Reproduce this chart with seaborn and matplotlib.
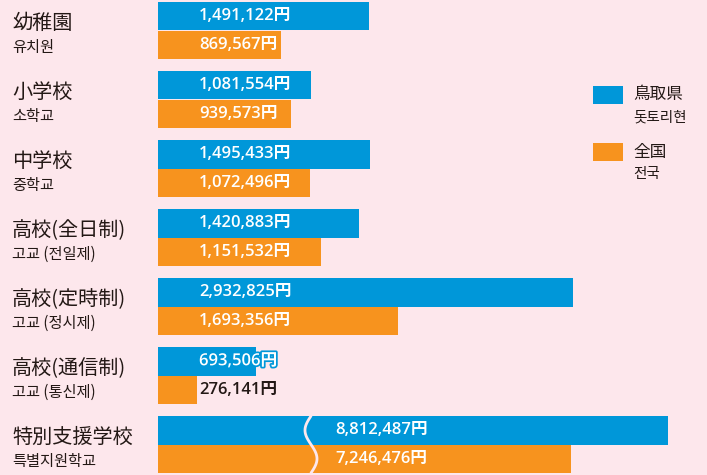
import numpy as np
import pandas as pd
import seaborn as sns
import matplotlib
matplotlib.use("Agg")
import matplotlib.pyplot as plt
from matplotlib.patches import Rectangle
import matplotlib.patheffects as pe

# ---- data ----
categories_ja = ["幼稚園", "小学校", "中学校", "高校(全日制)", "高校(定時制)", "高校(通信制)", "特別支援学校"]
categories_ko = ["유치원", "소학교", "중학교", "고교 (전일제)", "고교 (정시제)", "고교 (통신제)", "특별지원학교"]
tottori = [1491122, 1081554, 1495433, 1420883, 2932825, 693506, 8812487]
national = [869567, 939573, 1072496, 1151532, 1693356, 276141, 7246476]
series_ja = ["鳥取県", "全国"]
series_ko = ["돗토리현", "전국"]

BLUE = "#0097d9"
ORANGE = "#f7931e"
BG = "#fde7ec"
DARK = "#231815"

# broken-axis mapping for very large values (compressed beyond the break)
BREAK_LIMIT = 4_000_000
def shown(v):
    if v <= BREAK_LIMIT:
        return v
    return -251_000 + 0.4374 * v

W, H = 707, 475
sns.set_theme(style="white")
plt.rcParams["font.family"] = ["Noto Sans CJK JP", "DejaVu Sans"]
NUMFONT = ["Open Sans", "Noto Sans CJK JP"]

fig = plt.figure(figsize=(W / 100, H / 100), dpi=100, facecolor=BG)
ax = fig.add_axes([0, 0, 1, 1])
ax.set_facecolor(BG)

rows = []
for cat, t, n in zip(categories_ja, tottori, national):
    rows.append({"cat": cat, "series": series_ja[0], "shown": shown(t), "value": t})
    rows.append({"cat": cat, "series": series_ja[1], "shown": shown(n), "value": n})
df = pd.DataFrame(rows)

sns.barplot(data=df, x="shown", y="cat", hue="series", orient="h",
            palette=[BLUE, ORANGE], width=0.826, saturation=1,
            dodge=True, legend=False, ax=ax, linewidth=0)

PX = 141.5e-6  # pixels per yen
x0 = 158
ax.set_xlim(-x0 / PX, (W - x0) / PX)
ax.set_ylim((H - 30.5) / 69, -30.5 / 69)
ax.set_axis_off()

half = 0.826 / 4
px2val = lambda p: p / PX
for i in range(len(categories_ja)):
    ax.text(px2val(12 - x0), i - 0.1, categories_ja[i], fontsize=14.5, color=DARK,
            va="center", ha="left")
    ax.text(px2val(12 - x0), i + 0.25, categories_ko[i], fontsize=11, color=DARK,
            va="center", ha="left")
    for j, (vals, col) in enumerate([(tottori, BLUE), (national, ORANGE)]):
        v = vals[i]
        y = i + (-half if j == 0 else half)
        lx = px2val(41) if v <= BREAK_LIMIT else px2val(177)
        label = f"{v:,}円"
        label_end = lx + px2val(80)
        kw = dict(fontsize=12, va="center", ha="left", family=NUMFONT, fontweight="semibold")
        if shown(v) >= label_end:
            ax.text(lx, y, label, color="white", **kw)
        elif shown(v) > lx + px2val(20):
            ax.text(lx, y, label, color="white",
                    path_effects=[pe.withStroke(linewidth=2.5, foreground=col)], **kw)
        else:
            ax.text(lx, y, label, color=DARK, **kw)

# wavy break marks on the large bars
for i, t in enumerate(tottori):
    if t > BREAK_LIMIT:
        yy = np.linspace(i - 2 * half, i + 2 * half, 60)
        phase = (yy - yy[0]) / (yy[-1] - yy[0])
        xx = px2val(311 - x0) - px2val(6) * np.sin(2 * np.pi * phase)
        ax.plot(xx, yy, color="#fde7ec", lw=2, solid_capstyle="round")

# legend
def fx(p): return p / W
def fy(p): return 1 - p / H
for k, (col, ja, ko, top) in enumerate(zip([BLUE, ORANGE], series_ja, series_ko, [86, 143])):
    fig.add_artist(Rectangle((fx(593), fy(top + 18)), 30 / W, 18 / H,
                             transform=fig.transFigure, color=col, lw=0))
    fig.text(fx(633), fy(top + 9), ja, fontsize=12, color=DARK, va="center", ha="left")
    fig.text(fx(633), fy(top + 31), ko, fontsize=10.5, color=DARK, va="center", ha="left")

fig.savefig("out.png", dpi=100, facecolor=BG)
